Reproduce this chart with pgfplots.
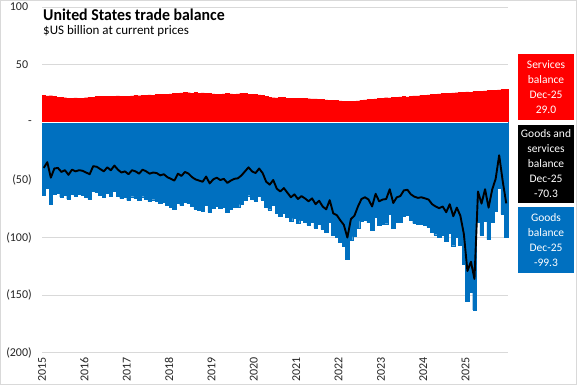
\documentclass[border=0pt]{standalone}
\usepackage{pgfplots}
\pgfplotsset{compat=1.18}
\usepackage{pgfplotstable}
\usepackage{fontspec}
\setmainfont{Carlito}
\definecolor{sred}{HTML}{FF0000}
\definecolor{gblue}{HTML}{0070C0}
\definecolor{gridgray}{HTML}{D9D9D9}
\definecolor{labgray}{HTML}{262626}
\pgfplotstableread{
m serv goods total
0 23.5 -63.0 -39.5
1 23.0 -57.5 -34.5
2 23.2 -71.2 -48.0
3 22.5 -62.5 -40.0
4 22.0 -61.5 -39.5
5 21.8 -64.8 -43.0
6 21.5 -63.0 -41.5
7 21.2 -66.7 -45.5
8 21.0 -62.0 -41.0
9 21.3 -63.8 -42.5
10 21.0 -62.5 -41.5
11 21.2 -63.2 -42.0
12 21.5 -65.0 -43.5
13 21.8 -66.8 -45.0
14 22.0 -60.0 -38.0
15 22.4 -60.9 -38.5
16 22.6 -63.1 -40.5
17 22.8 -65.3 -42.5
18 22.4 -61.4 -39.0
19 22.9 -64.4 -41.5
20 22.5 -60.0 -37.5
21 23.0 -64.0 -41.0
22 22.4 -65.9 -43.5
23 22.6 -65.1 -42.5
24 22.8 -67.8 -45.0
25 23.0 -64.5 -41.5
26 23.4 -65.9 -42.5
27 23.2 -67.7 -44.5
28 23.5 -64.5 -41.0
29 23.8 -66.3 -42.5
30 24.0 -68.5 -44.5
31 23.6 -67.1 -43.5
32 24.2 -68.2 -44.0
33 24.5 -70.5 -46.0
34 24.3 -69.3 -45.0
35 24.6 -72.1 -47.5
36 24.8 -73.8 -49.0
37 25.0 -75.5 -50.5
38 25.3 -69.8 -44.5
39 25.6 -72.1 -46.5
40 26.0 -69.0 -43.0
41 25.8 -70.3 -44.5
42 25.5 -73.0 -47.5
43 25.9 -75.4 -49.5
44 25.4 -75.9 -50.5
45 25.6 -77.1 -51.5
46 25.2 -72.2 -47.0
47 25.0 -78.0 -53.0
48 24.8 -74.3 -49.5
49 24.5 -72.5 -48.0
50 24.6 -74.6 -50.0
51 24.9 -73.9 -49.0
52 25.1 -77.6 -52.5
53 24.7 -75.2 -50.5
54 24.5 -73.5 -49.0
55 24.8 -73.3 -48.5
56 25.2 -71.2 -46.0
57 25.0 -67.5 -42.5
58 24.6 -63.6 -39.0
59 24.4 -66.9 -42.5
60 24.2 -68.2 -44.0
61 24.0 -64.0 -40.0
62 23.4 -67.4 -44.0
63 22.5 -74.0 -51.5
64 21.8 -75.8 -54.0
65 21.5 -71.5 -50.0
66 21.4 -78.9 -57.5
67 21.8 -81.8 -60.0
68 21.6 -78.6 -57.0
69 21.2 -82.2 -61.0
70 21.0 -86.0 -65.0
71 20.8 -83.3 -62.5
72 20.9 -87.4 -66.5
73 21.2 -85.2 -64.0
74 21.0 -87.0 -66.0
75 20.6 -89.1 -68.5
76 20.4 -86.4 -66.0
77 20.5 -91.5 -71.0
78 20.2 -88.2 -68.0
79 19.8 -92.8 -73.0
80 19.6 -95.1 -75.5
81 19.4 -86.9 -67.5
82 19.2 -98.2 -79.0
83 19.0 -99.5 -80.5
84 18.8 -103.8 -85.0
85 18.6 -107.6 -89.0
86 18.5 -118.5 -100.0
87 18.4 -102.4 -84.0
88 18.2 -99.2 -81.0
89 18.8 -91.8 -73.0
90 19.2 -85.7 -66.5
91 19.6 -84.6 -65.0
92 20.0 -87.0 -67.0
93 20.3 -93.3 -73.0
94 20.5 -82.5 -62.0
95 20.9 -89.4 -68.5
96 21.2 -88.2 -67.0
97 21.5 -88.0 -66.5
98 21.4 -79.4 -58.0
99 21.8 -91.8 -70.0
100 22.0 -87.0 -65.0
101 22.3 -86.3 -64.0
102 22.5 -81.5 -59.0
103 22.2 -80.7 -58.5
104 22.8 -85.3 -62.5
105 23.1 -87.6 -64.5
106 23.0 -88.5 -65.5
107 23.4 -88.4 -65.0
108 23.6 -89.6 -66.0
109 24.0 -91.0 -67.0
110 24.2 -95.2 -71.0
111 24.5 -97.5 -73.0
112 24.8 -99.3 -74.5
113 25.0 -98.0 -73.0
114 25.3 -103.3 -78.0
115 25.1 -96.1 -71.0
116 25.6 -107.1 -81.5
117 25.8 -99.8 -74.0
118 26.0 -107.0 -81.0
119 26.2 -123.2 -97.0
120 26.5 -155.5 -129.0
121 26.3 -147.3 -121.0
122 26.8 -162.8 -136.0
123 27.0 -87.0 -60.0
124 27.2 -97.7 -70.5
125 27.5 -85.5 -58.0
126 27.7 -101.7 -74.0
127 27.9 -86.4 -58.5
128 28.1 -77.1 -49.0
129 28.3 -56.8 -28.5
130 28.6 -79.6 -51.0
131 29.0 -99.3 -70.3
}\datatable
\begin{document}
\begin{tikzpicture}[x=1pt,y=1pt]
\useasboundingbox (0,0) rectangle (577,385);
\fill[white] (0,0) rectangle (577,385);
\begin{axis}[
  at={(42pt,32.3pt)}, anchor=south west,
  scale only axis, width=466pt, height=345.4pt,
  xmin=-0.5, xmax=131.5, ymin=-200, ymax=100,
  axis line style={draw=none},
  major tick length=0pt,
  ymajorgrids, grid style={gridgray, line width=0.8pt},
  ytick={-200,-150,-100,-50,0,50,100},
  yticklabels={(200),(150),(100),(50),{-\hspace{5pt}},{50\phantom{)}},{100\phantom{)}}},
  yticklabel style={font=\fontsize{12}{14}\selectfont, text=labgray, anchor=east, inner sep=0pt, xshift=-10pt},
  xtick={-0.5,11.5,23.5,35.5,47.5,59.5,71.5,83.5,95.5,107.5,119.5},
  xticklabels={2015,2016,2017,2018,2019,2020,2021,2022,2023,2024,2025},
  xticklabel style={font=\fontsize{12}{14}\selectfont, text=labgray, rotate=90, anchor=east, inner sep=0pt},
  xticklabel shift=4.5pt,
  clip=false,
]
\addplot[ybar, bar width=1, bar shift=0pt, fill=sred, draw=sred, line width=0.3pt] table[x=m,y=serv]{\datatable};
\addplot[ybar, bar width=1, bar shift=0pt, fill=gblue, draw=gblue, line width=0.3pt] table[x=m,y=goods]{\datatable};
\draw[white, line width=1pt] (axis cs:-0.5,0) -- (axis cs:131.5,0);
\addplot[black, line width=1.9pt, line join=round, mark=none] table[x=m,y=total]{\datatable};
\end{axis}
\node[anchor=base west, inner sep=0pt, font=\fontsize{16.5}{18}\selectfont\bfseries] at (43,364.3) {\scalebox{0.96}[1]{United States trade balance}};
\node[anchor=base west, inner sep=0pt, font=\fontsize{13}{15}\selectfont] at (43,350.7) {\$US billion at current prices};
\fill[sred] (518,265) rectangle (574,331);
\fill[black] (518,182) rectangle (574,260);
\fill[gblue] (518,112.3) rectangle (574,178);
\node[text=white, align=center, font=\fontsize{11.5}{15}\selectfont, inner sep=0pt] at (546,298) {Services\\balance\\Dec-25\\29.0};
\node[text=white, align=center, font=\fontsize{11.5}{15}\selectfont, inner sep=0pt] at (546,221) {Goods and\\services\\balance\\Dec-25\\-70.3};
\node[text=white, align=center, font=\fontsize{11.5}{15}\selectfont, inner sep=0pt] at (546,145) {Goods\\balance\\Dec-25\\-99.3};
\draw[gridgray, line width=1pt] (0.5,0.5) rectangle (576.5,384.5);
\end{tikzpicture}
\end{document}
